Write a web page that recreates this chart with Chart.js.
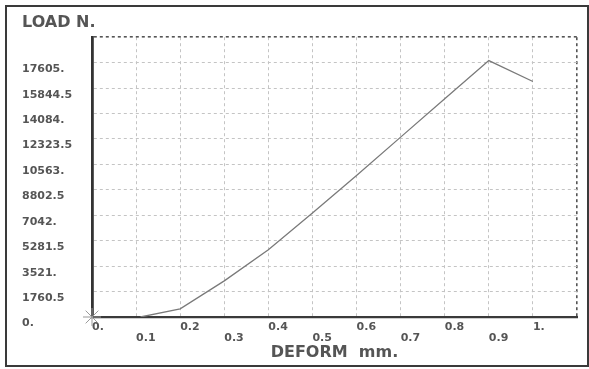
<!DOCTYPE html>
<html>
<head>
<meta charset="utf-8">
<script src="https://cdn.jsdelivr.net/npm/chart.js@4.4.0/dist/chart.umd.min.js"></script>
<style>
  html, body { margin: 0; padding: 0; background: #fff; }
  #wrap { position: relative; width: 589px; height: 369px; }
  #frame { position: absolute; left: 5px; top: 5px; width: 584px; height: 362px; border: 2px solid #3a3a3a; box-sizing: border-box; pointer-events: none; }
  canvas { display: block; }
</style>
</head>
<body>
<div id="wrap">
  <canvas id="chart" width="589" height="369"></canvas>
  <div id="frame"></div>
</div>
<script>
  // values
  const deformValues = [0.11, 0.2, 0.3, 0.4, 0.5, 0.6, 0.7, 0.8, 0.9, 1.0];
  const loadValues = [0, 560, 2500, 4650, 7200, 9800, 12450, 15100, 17750, 16300];

  const xTickValues = [0, 0.1, 0.2, 0.3, 0.4, 0.5, 0.6, 0.7, 0.8, 0.9, 1.0, 1.1];
  const xTickLabels = ["0.", "0.1", "0.2", "0.3", "0.4", "0.5", "0.6", "0.7", "0.8", "0.9", "1.", ""];
  const yTickValues = [0, 1760.5, 3521, 5281.5, 7042, 8802.5, 10563, 12323.5, 14084, 15844.5, 17605, 19365.5];
  const yTickLabels = ["0.", "1760.5", "3521.", "5281.5", "7042.", "8802.5", "10563.", "12323.5", "14084.", "15844.5", "17605.", ""];

  const points = deformValues.map((d, i) => ({ x: d, y: loadValues[i] }));

  const gridColor = ctx => (ctx.index === ctx.scale.ticks.length - 1 ? "#555" : "#c4c4c4");
  const gridWidth = ctx => (ctx.index === ctx.scale.ticks.length - 1 ? 1.6 : 1);

  new Chart(document.getElementById("chart"), {
    type: "scatter",
    data: {
      datasets: [
        {
          data: points,
          showLine: true,
          borderColor: "#7a7a7a",
          borderWidth: 1.3,
          pointRadius: 0,
          tension: 0
        },
        {
          data: [{ x: 0, y: 0 }],
          pointStyle: "star",
          pointRadius: 9,
          borderColor: "#999",
          borderWidth: 1,
          clip: false
        }
      ]
    },
    options: {
      responsive: false,
      animation: false,
      layout: { padding: { left: 22, right: 12, top: 0, bottom: 0 } },
      plugins: {
        legend: { display: false },
        tooltip: { enabled: false },
        title: {
          display: true,
          text: "LOAD N.",
          align: "start",
          color: "#555",
          font: { family: "DejaVu Sans", size: 16, weight: "bold" },
          padding: { top: 13, bottom: 5 }
        }
      },
      scales: {
        x: {
          type: "linear",
          min: 0,
          max: 1.1,
          afterBuildTicks: axis => { axis.ticks = xTickValues.map(v => ({ value: v })); },
          afterFit: axis => { axis.height = 52; },
          grid: { color: gridColor, lineWidth: gridWidth, drawTicks: false },
          border: { color: "#3a3a3a", width: 2.2, dash: [3, 3] },
          ticks: {
            align: "start",
            padding: 5,
            color: "#555",
            font: { family: "DejaVu Sans", size: 11, weight: "bold", lineHeight: 1.0 },
            maxRotation: 0,
            autoSkip: false,
            callback: (value, index) => (index % 2 ? ["", xTickLabels[index]] : [xTickLabels[index]])
          },
          title: {
            display: true,
            text: "DEFORM  mm.",
            color: "#555",
            font: { family: "DejaVu Sans", size: 16, weight: "bold" },
            padding: { top: 0, bottom: 7 }
          }
        },
        y: {
          type: "linear",
          min: 0,
          max: 19365.5,
          afterBuildTicks: axis => { axis.ticks = yTickValues.map(v => ({ value: v })); },
          afterFit: axis => { axis.width = 70; },
          grid: { color: gridColor, lineWidth: gridWidth, drawTicks: false },
          border: { color: "#333", width: 2.8, dash: [3, 3] },
          ticks: {
            crossAlign: "far",
            color: "#555",
            font: { family: "DejaVu Sans", size: 11, weight: "bold", lineHeight: 1.2 },
            autoSkip: false,
            callback: (value, index) => (yTickLabels[index] ? ["", yTickLabels[index]] : "")
          }
        }
      }
    }
  });
</script>
</body>
</html>
